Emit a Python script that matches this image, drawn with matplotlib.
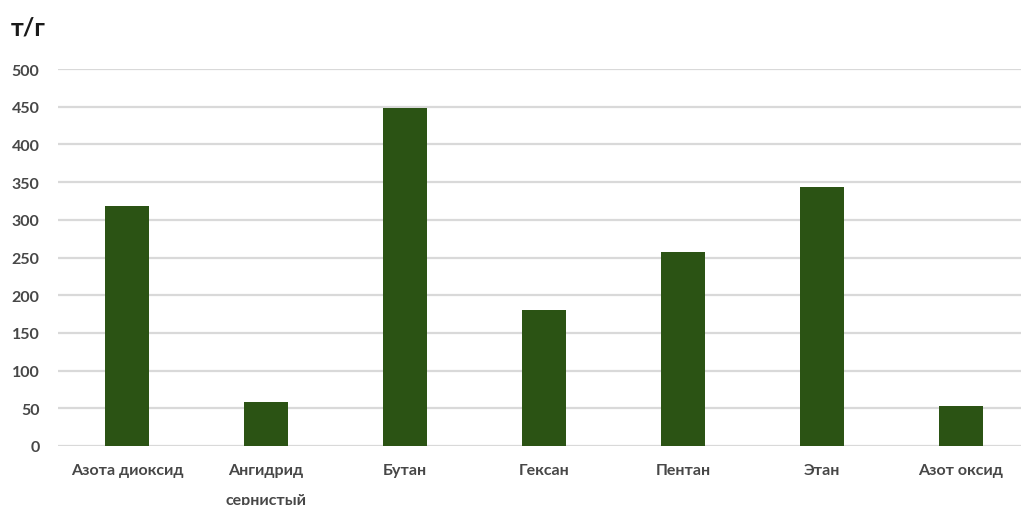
import matplotlib.pyplot as plt
import numpy as np

categories = ["Азота диоксид", "Ангидрид\nсернистый", "Бутан", "Гексан",
              "Пентан", "Этан", "Азот оксид"]
values = [318, 58, 448, 180, 257, 344, 53]
yticks = [0, 50, 100, 150, 200, 250, 300, 350, 400, 450, 500]

plt.rcParams['font.family'] = ['Lato', 'DejaVu Sans']

fig = plt.figure(figsize=(10.21, 5.06), dpi=100)
# axes run past the right edge, as in the cropped source
ax = fig.add_axes([57.5 / 1021, 59 / 506, 973 / 1021, 377 / 506])

x = np.arange(len(categories))
ax.bar(x, values, width=0.32, color="#2B5314", zorder=3)

ax.set_xlim(-0.5, len(categories) - 0.5)
ax.set_ylim(0, 500)
ax.set_yticks(yticks)
ax.set_yticklabels([str(v) for v in yticks], fontsize=11.5, color="#474747",
                   fontweight="bold")
ax.set_xticks(x)
ax.set_xticklabels(categories, fontsize=11.5, color="#474747",
                   fontweight="bold", linespacing=2.5, va="top")
ax.tick_params(axis="both", length=0)
ax.tick_params(axis="y", pad=13)
ax.tick_params(axis="x", pad=12)

ax.grid(axis="y", color="#D9D9D9", linewidth=1.6, zorder=0)
for s in ax.spines.values():
    s.set_visible(False)

fig.text(11 / 1021, 1 - 28 / 506, "т/г", fontsize=18, fontweight="bold",
         color="#1a1a1a", va="center")

fig.savefig("out.png", dpi=100)
